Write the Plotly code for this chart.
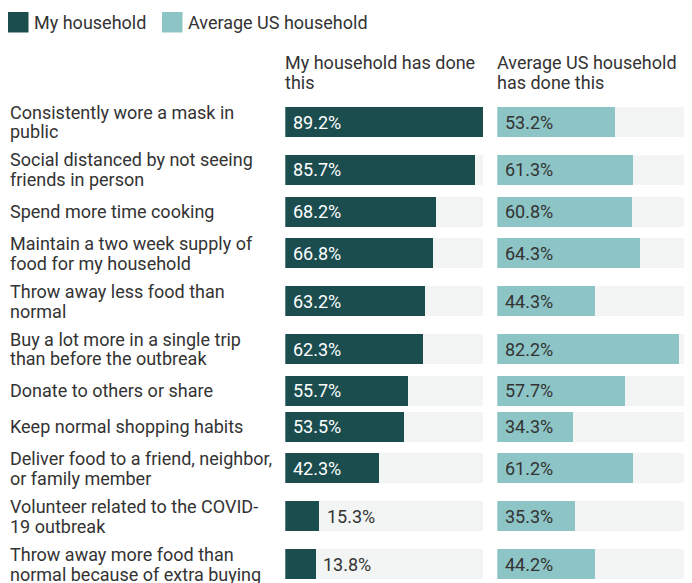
import plotly.graph_objects as go

W, H = 692, 583
OFF = 8  # page body margin

categories = [
    "Consistently wore a mask in\npublic",
    "Social distanced by not seeing\nfriends in person",
    "Spend more time cooking",
    "Maintain a two week supply of\nfood for my household",
    "Throw away less food than\nnormal",
    "Buy a lot more in a single trip\nthan before the outbreak",
    "Donate to others or share",
    "Keep normal shopping habits",
    "Deliver food to a friend, neighbor,\nor family member",
    "Volunteer related to the COVID-\n19 outbreak",
    "Throw away more food than\nnormal because of extra buying",
]
my_household = [89.2, 85.7, 68.2, 66.8, 63.2, 62.3, 55.7, 53.5, 42.3, 15.3, 13.8]
avg_household = [53.2, 61.3, 60.8, 64.3, 44.3, 82.2, 57.7, 34.3, 61.2, 35.3, 44.2]
series_names = ["My household", "Average US household"]
column_titles = ["My household has done\nthis", "Average US household\nhas done this"]

DARK = "#1b4d4f"
LIGHT = "#8dc4c5"
TRACK = "#f3f5f4"
TEXT = "#333333"
FONT = "Roboto"
FS = 18
LINE = 20

# layout (screen pixels)
ROW_TOP = 98.1
H1, H2 = 35.8, 47.8
BAR_H = 30
PX_PER_UNIT = 2.217
L0 = 285.3
R0 = 497.3
LABEL_X = 8

def px(x):
    return (x - OFF) / W

def py(y):
    return 1 - (y - OFF) / H

# row centres from label line counts
centers = []
y = ROW_TOP
for c in categories:
    h = H2 if "\n" in c else H1
    centers.append(y + h / 2)
    y += h

left_dom = [px(L0), px(L0 + max(my_household) * PX_PER_UNIT)]
right_dom = [px(R0), 1.0]
right_range = (W + OFF - R0) / PX_PER_UNIT

fig = go.Figure()
track = [max(my_household)] * len(categories)
fig.add_trace(go.Bar(x=track, y=centers, orientation="h", width=BAR_H,
                     marker=dict(color=TRACK, line=dict(width=0)), xaxis="x", yaxis="y",
                     hoverinfo="skip", showlegend=False))
fig.add_trace(go.Bar(x=my_household, y=centers, orientation="h", width=BAR_H,
                     marker=dict(color=DARK, line=dict(width=0)), xaxis="x", yaxis="y",
                     name=series_names[0], showlegend=False))
fig.add_trace(go.Bar(x=track, y=centers, orientation="h", width=BAR_H,
                     marker=dict(color=TRACK, line=dict(width=0)), xaxis="x2", yaxis="y",
                     hoverinfo="skip", showlegend=False))
fig.add_trace(go.Bar(x=avg_household, y=centers, orientation="h", width=BAR_H,
                     marker=dict(color=LIGHT, line=dict(width=0)), xaxis="x2", yaxis="y",
                     name=series_names[1], showlegend=False))

ann = []

def text_line(x, yb, s, color=TEXT, size=FS):
    ann.append(dict(x=x, y=py(yb - 6), xref="paper", yref="paper", text=s, showarrow=False,
                    xanchor="left", yanchor="middle",
                    font=dict(family=FONT, size=size, color=color)))

# category labels
for c, yc in zip(categories, centers):
    lines = c.split("\n")
    if len(lines) == 1:
        text_line(px(LABEL_X), yc + 6, lines[0])
    else:
        for i, ln in enumerate(lines):
            text_line(px(LABEL_X), yc - 4 + i * LINE, ln)

# column titles
for x0, t in zip([L0 - 2, R0 - 2], column_titles):
    for i, ln in enumerate(t.split("\n")):
        text_line(px(x0), 68.8 + i * LINE, ln)

# value labels
for vals, xr, inside_col in [(my_household, "x", "white"), (avg_household, "x2", TEXT)]:
    for v, yc in zip(vals, centers):
        inside = v >= 20
        ann.append(dict(x=0 if inside else v, y=yc, xref=xr, yref="y", text=f"{v:.1f}%",
                        showarrow=False, xanchor="left", yanchor="middle", xshift=5.5, yshift=0,
                        font=dict(family=FONT, size=FS, color=inside_col if inside else TEXT)))

# legend
shapes = []
for (x0, col, name, tx) in [(8, DARK, series_names[0], 31.5), (162, LIGHT, series_names[1], 186)]:
    shapes.append(dict(type="rect", xref="paper", yref="paper", x0=px(x0), x1=px(x0 + 20.5),
                       y0=py(12), y1=py(32.5), fillcolor=col, line=dict(width=0)))
    text_line(px(tx), 28.5, name)

fig.update_layout(
    width=W, height=H, margin=dict(l=0, r=0, t=0, b=0),
    paper_bgcolor="white", plot_bgcolor="white",
    barmode="overlay", bargap=0,
    xaxis=dict(domain=left_dom, range=[0, max(my_household)], visible=False, fixedrange=True),
    xaxis2=dict(domain=right_dom, range=[0, right_range], visible=False, fixedrange=True),
    yaxis=dict(domain=[0, 1], range=[H + OFF, OFF], visible=False, fixedrange=True),
    annotations=ann, shapes=shapes, showlegend=False,
    font=dict(family=FONT, size=FS, color=TEXT),
)

fig.write_html("out.html")
